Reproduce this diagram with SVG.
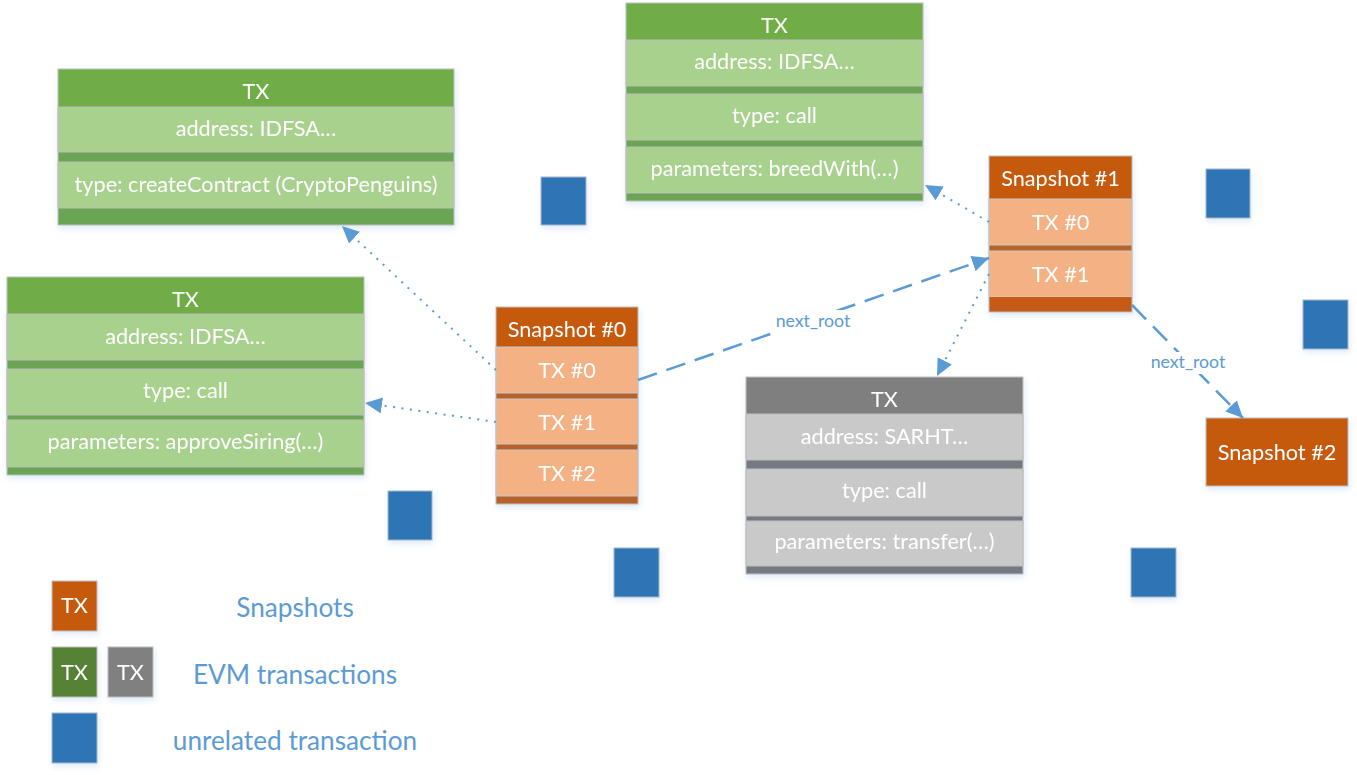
<svg xmlns="http://www.w3.org/2000/svg" width="1357" height="775" viewBox="0 0 1357 775">
<style>
text{font-family:Lato,"Liberation Sans",sans-serif;text-anchor:middle}
.t{fill:#fff;font-size:21.7px}
.gh{fill:#70AD47}
.gr{fill:#A9D18E;stroke:#BDBDBD;stroke-width:1}
.gs{fill:#6BA553}
.oh{fill:#C55A11}
.or{fill:#F4B183;stroke:#C8C8C8;stroke-width:1}
.os{fill:#B7622B}
.ah{fill:#7F7F7F}
.ar{fill:#C9C9C9;stroke:#BDBDBD;stroke-width:1}
.as{fill:#747A82}
.bl{fill:#2E75B6;stroke:#A9B8C8;stroke-width:1}
.frame{fill:none;stroke:#BFBFBF;stroke-width:1}
.dot{fill:none;stroke:#5B9BD5;stroke-width:2;stroke-dasharray:2 6.5}
.dash{fill:none;stroke:#5B9BD5;stroke-width:2.5;stroke-dasharray:20 10}
.lbl{fill:#5B9BD5;font-size:17.7px}
.leg{fill:#5B9BD5;font-size:26.2px}
</style>
<defs>
<marker id="ah" markerUnits="userSpaceOnUse" markerWidth="18" markerHeight="16" refX="17" refY="8" orient="auto" viewBox="0 0 18 16">
<path d="M0,0 L17,8 L0,16 z" fill="#5B9BD5"/>
</marker>
<filter id="sh" x="-10%" y="-10%" width="125%" height="125%">
<feDropShadow dx="1" dy="3" stdDeviation="3" flood-color="#9DC3E6" flood-opacity="0.35"/>
</filter>
</defs>
<rect width="1357" height="775" fill="#fff"/>

<g id="tx-create" filter="url(#sh)">
<rect class="gs" x="58" y="69" width="396" height="156"/>
<rect class="gh" x="58" y="69" width="396" height="38"/>
<rect class="gr" x="58" y="107" width="396" height="45"/>
<rect class="gr" x="58" y="162" width="396" height="46"/>
<rect class="frame" x="58" y="69" width="396" height="156"/>
<text class="t" x="256" y="99">TX</text>
<text class="t" x="256" y="136">address: IDFSA…</text>
<text class="t" x="256" y="192">type: createContract (CryptoPenguins)</text>
</g>

<g id="tx-breed" filter="url(#sh)">
<rect class="gs" x="626" y="3" width="297" height="198"/>
<rect class="gh" x="626" y="3" width="297" height="37"/>
<rect class="gr" x="626" y="40" width="297" height="46"/>
<rect class="gr" x="626" y="94" width="297" height="46"/>
<rect class="gr" x="626" y="147" width="297" height="46"/>
<rect class="frame" x="626" y="3" width="297" height="198"/>
<text class="t" x="774.5" y="33">TX</text>
<text class="t" x="774.5" y="69">address: IDFSA…</text>
<text class="t" x="774.5" y="123">type: call</text>
<text class="t" x="774.5" y="176">parameters: breedWith(…)</text>
</g>

<g id="tx-approve" filter="url(#sh)">
<rect class="gs" x="7" y="277" width="357" height="198"/>
<rect class="gh" x="7" y="277" width="357" height="37"/>
<rect class="gr" x="7" y="314" width="357" height="46"/>
<rect class="gr" x="7" y="369" width="357" height="46"/>
<rect class="gr" x="7" y="420" width="357" height="47"/>
<rect class="frame" x="7" y="277" width="357" height="198"/>
<text class="t" x="185.5" y="307">TX</text>
<text class="t" x="185.5" y="344">address: IDFSA…</text>
<text class="t" x="185.5" y="398">type: call</text>
<text class="t" x="185.5" y="449">parameters: approveSiring(…)</text>
</g>

<g id="snapshot0" filter="url(#sh)">
<rect class="os" x="496" y="307" width="142" height="197"/>
<rect class="oh" x="496" y="307" width="142" height="40"/>
<rect class="or" x="496" y="347" width="142" height="46"/>
<rect class="or" x="496" y="399" width="142" height="45"/>
<rect class="or" x="496" y="450" width="142" height="46"/>
<rect class="frame" x="496" y="307" width="142" height="197"/>
<text class="t" x="567" y="337">Snapshot #0</text>
<text class="t" x="567" y="378">TX #0</text>
<text class="t" x="567" y="430">TX #1</text>
<text class="t" x="567" y="481">TX #2</text>
</g>

<g id="snapshot1" filter="url(#sh)">
<rect class="os" x="989" y="156" width="143" height="156"/>
<rect class="oh" x="989" y="156" width="143" height="43"/>
<rect class="or" x="989" y="199" width="143" height="46"/>
<rect class="or" x="989" y="251" width="143" height="46"/>
<rect class="oh" x="989" y="297" width="143" height="15" opacity="0.9"/>
<rect class="frame" x="989" y="156" width="143" height="156"/>
<text class="t" x="1060.5" y="186">Snapshot #1</text>
<text class="t" x="1060.5" y="230">TX #0</text>
<text class="t" x="1060.5" y="282">TX #1</text>
</g>

<g id="tx-transfer" filter="url(#sh)">
<rect class="as" x="746" y="377" width="277" height="197"/>
<rect class="ah" x="746" y="377" width="277" height="37"/>
<rect class="ar" x="746" y="414" width="277" height="46"/>
<rect class="ar" x="746" y="469" width="277" height="47"/>
<rect class="ar" x="746" y="521" width="277" height="45"/>
<rect class="frame" x="746" y="377" width="277" height="197"/>
<text class="t" x="884.5" y="407">TX</text>
<text class="t" x="884.5" y="444">address: SARHT…</text>
<text class="t" x="884.5" y="498">type: call</text>
<text class="t" x="884.5" y="549">parameters: transfer(…)</text>
</g>

<g id="snapshot2" filter="url(#sh)">
<rect class="oh" x="1206" y="418" width="142" height="68" stroke="#BFBFBF" stroke-width="1"/>
<text class="t" x="1277" y="460">Snapshot #2</text>
</g>

<g id="unrelated" filter="url(#sh)">
<rect class="bl" x="541" y="177" width="45" height="48"/>
<rect class="bl" x="1206" y="169" width="44" height="49"/>
<rect class="bl" x="1303" y="300" width="45" height="49"/>
<rect class="bl" x="388" y="491" width="44" height="49"/>
<rect class="bl" x="614" y="548" width="45" height="49"/>
<rect class="bl" x="1131" y="548" width="45" height="49"/>
</g>

<g id="connectors">
<line class="dot" x1="496" y1="370" x2="342" y2="226" marker-end="url(#ah)"/>
<line class="dot" x1="496" y1="422" x2="365" y2="403" marker-end="url(#ah)"/>
<line class="dot" x1="989" y1="222" x2="925" y2="185" marker-end="url(#ah)"/>
<line class="dot" x1="989" y1="274" x2="937" y2="376" marker-end="url(#ah)"/>
<line class="dash" x1="638" y1="380" x2="989" y2="258" marker-end="url(#ah)"/>
<line class="dash" x1="1132" y1="305" x2="1243" y2="418" marker-end="url(#ah)"/>
<rect x="775" y="310" width="78" height="22" fill="#fff"/>
<text class="lbl" x="813" y="327">next_root</text>
<rect x="1149" y="352" width="78" height="22" fill="#fff"/>
<text class="lbl" x="1188" y="368">next_root</text>
</g>

<g id="legend">
<g id="legend-snapshot" filter="url(#sh)">
<rect class="oh" x="52" y="581" width="45" height="50" stroke="#BFBFBF"/>
<text class="t" x="74.5" y="613">TX</text>
</g>
<g id="legend-evm" filter="url(#sh)">
<rect x="52" y="647" width="45" height="50" fill="#548235" stroke="#BFBFBF"/>
<text class="t" x="74.5" y="680">TX</text>
<rect x="108" y="647" width="45" height="50" fill="#808080" stroke="#BFBFBF"/>
<text class="t" x="130.5" y="680">TX</text>
</g>
<g id="legend-unrelated" filter="url(#sh)">
<rect class="bl" x="52" y="713" width="45" height="50"/>
</g>
<text class="leg" x="295" y="617">Snapshots</text>
<text class="leg" x="295" y="684">EVM transactions</text>
<text class="leg" x="295" y="750">unrelated transaction</text>
</g>
</svg>
